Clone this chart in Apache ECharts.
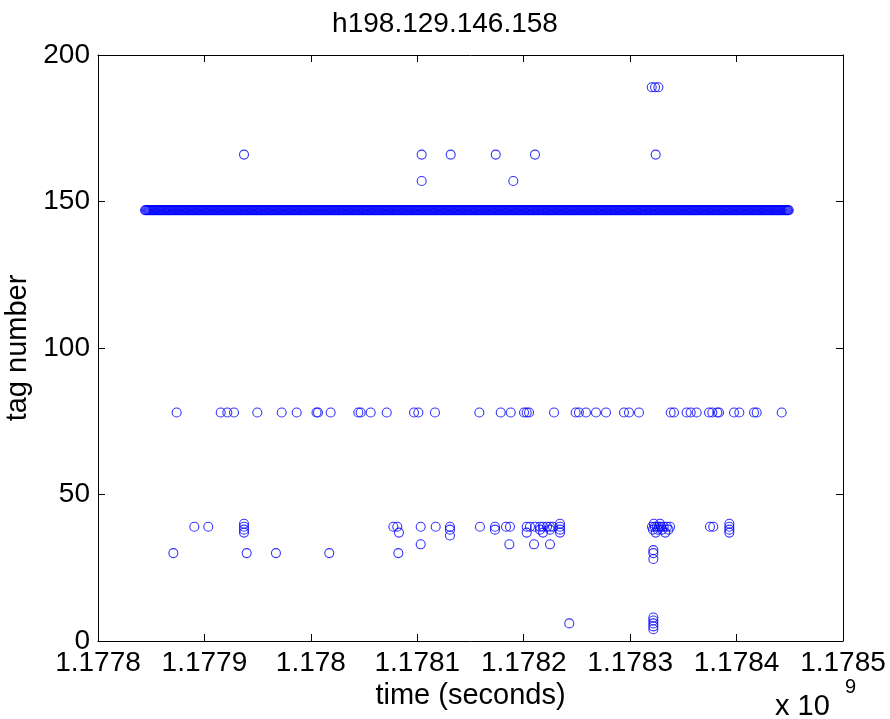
<!DOCTYPE html>
<html>
<head>
<meta charset="utf-8">
<script src="https://cdn.jsdelivr.net/npm/echarts@6/dist/echarts.min.js"></script>
<style>
html,body{margin:0;padding:0;background:#fff;}
#c{width:890px;height:719px;}
</style>
</head>
<body>
<div id="c"></div>
<script>
// ---- data (time in seconds, tag number) ----
var chartTitle = "h198.129.146.158";
var xTicks = [1177800000, 1177900000, 1178000000, 1178100000, 1178200000, 1178300000, 1178400000, 1178500000];
var yTicks = [0, 50, 100, 150, 200];

// tag 147: dense band of observations (first pass)
var times147 = [
1177844200,1177845900,1177847700,1177849300,1177851100,1177852800,1177854400,1177856200,1177857900,1177859600,
1177861400,1177863000,1177864800,1177866500,1177868100,1177869900,1177871600,1177873300,1177875100,1177876700,
1177878500,1177880200,1177881800,1177883600,1177885300,1177887000,1177888800,1177890400,1177892200,1177893900,
1177895500,1177897300,1177899000,1177900700,1177902500,1177904100,1177905900,1177907600,1177909200,1177911000,
1177912700,1177914400,1177916200,1177917800,1177919600,1177921300,1177922900,1177924700,1177926400,1177928100,
1177929900,1177931500,1177933300,1177935000,1177936600,1177938400,1177940100,1177941800,1177943600,1177945200,
1177947000,1177948700,1177950300,1177952100,1177953800,1177955500,1177957300,1177958900,1177960700,1177962400,
1177964000,1177965800,1177967500,1177969200,1177971000,1177972600,1177974400,1177976100,1177977700,1177979500,
1177981200,1177982900,1177984700,1177986300,1177988100,1177989800,1177991400,1177993200,1177994900,1177996600,
1177998400,1178000000,1178001800,1178003500,1178005100,1178006900,1178008600,1178010300,1178012100,1178013700,
1178015500,1178017200,1178018800,1178020600,1178022300,1178024000,1178025800,1178027400,1178029200,1178030900,
1178032500,1178034300,1178036000,1178037700,1178039500,1178041100,1178042900,1178044600,1178046200,1178048000,
1178049700,1178051400,1178053200,1178054800,1178056600,1178058300,1178059900,1178061700,1178063400,1178065100,
1178066900,1178068500,1178070300,1178072000,1178073600,1178075400,1178077100,1178078800,1178080600,1178082200,
1178084000,1178085700,1178087300,1178089100,1178090800,1178092500,1178094300,1178095900,1178097700,1178099400,
1178101000,1178102800,1178104500,1178106200,1178108000,1178109600,1178111400,1178113100,1178114700,1178116500,
1178118200,1178119900,1178121700,1178123300,1178125100,1178126800,1178128400,1178130200,1178131900,1178133600,
1178135400,1178137000,1178138800,1178140500,1178142100,1178143900,1178145600,1178147300,1178149100,1178150700,
1178152500,1178154200,1178155800,1178157600,1178159300,1178161000,1178162800,1178164400,1178166200,1178167900,
1178169500,1178171300,1178173000,1178174700,1178176500,1178178100,1178179900,1178181600,1178183200,1178185000,
1178186700,1178188400,1178190200,1178191800,1178193600,1178195300,1178196900,1178198700,1178200400,1178202100,
1178203900,1178205500,1178207300,1178209000,1178210600,1178212400,1178214100,1178215800,1178217600,1178219200,
1178221000,1178222700,1178224300,1178226100,1178227800,1178229500,1178231300,1178232900,1178234700,1178236400,
1178238000,1178239800,1178241500,1178243200,1178245000,1178246600,1178248400,1178250100,1178251700,1178253500,
1178255200,1178256900,1178258700,1178260300,1178262100,1178263800,1178265400,1178267200,1178268900,1178270600,
1178272400,1178274000,1178275800,1178277500,1178279100,1178280900,1178282600,1178284300,1178286100,1178287700,
1178289500,1178291200,1178292800,1178294600,1178296300,1178298000,1178299800,1178301400,1178303200,1178304900,
1178306500,1178308300,1178310000,1178311700,1178313500,1178315100,1178316900,1178318600,1178320200,1178322000,
1178323700,1178325400,1178327200,1178328800,1178330600,1178332300,1178333900,1178335700,1178337400,1178339100,
1178340900,1178342500,1178344300,1178346000,1178347600,1178349400,1178351100,1178352800,1178354600,1178356200,
1178358000,1178359700,1178361300,1178363100,1178364800,1178366500,1178368300,1178369900,1178371700,1178373400,
1178375000,1178376800,1178378500,1178380200,1178382000,1178383600,1178385400,1178387100,1178388700,1178390500,
1178392200,1178393900,1178395700,1178397300,1178399100,1178400800,1178402400,1178404200,1178405900,1178407600,
1178409400,1178411000,1178412800,1178414500,1178416100,1178417900,1178419600,1178421300,1178423100,1178424700,
1178426500,1178428200,1178429800,1178431600,1178433300,1178435000,1178436800,1178438400,1178440200,1178441900,
1178443500,1178445300,1178447000,1178448300,1178449100
];
// tag 147: further observations in between
var times147b = [
1177845000,1177846800,1177848500,1177850200,1177851900,1177853600,1177855300,1177857000,1177858700,1177860500,
1177862200,1177863900,1177865600,1177867300,1177869000,1177870700,1177872500,1177874200,1177875900,1177877600,
1177879300,1177881000,1177882700,1177884400,1177886100,1177887900,1177889600,1177891300,1177893000,1177894700,
1177896400,1177898100,1177899800,1177901600,1177903300,1177905000,1177906700,1177908400,1177910100,1177911800,
1177913500,1177915300,1177917000,1177918700,1177920400,1177922100,1177923800,1177925500,1177927200,1177929000,
1177930700,1177932400,1177934100,1177935800,1177937500,1177939200,1177940900,1177942700,1177944400,1177946100,
1177947800,1177949500,1177951200,1177952900,1177954600,1177956400,1177958100,1177959800,1177961500,1177963200,
1177964900,1177966600,1177968300,1177970100,1177971800,1177973500,1177975200,1177976900,1177978600,1177980300,
1177982000,1177983800,1177985500,1177987200,1177988900,1177990600,1177992300,1177994000,1177995700,1177997500,
1177999200,1178000900,1178002600,1178004300,1178006000,1178007700,1178009400,1178011200,1178012900,1178014600,
1178016300,1178018000,1178019700,1178021400,1178023100,1178024900,1178026600,1178028300,1178030000,1178031700,
1178033400,1178035100,1178036800,1178038600,1178040300,1178042000,1178043700,1178045400,1178047100,1178048800,
1178050500,1178052300,1178054000,1178055700,1178057400,1178059100,1178060800,1178062500,1178064200,1178066000,
1178067700,1178069400,1178071100,1178072800,1178074500,1178076200,1178077900,1178079700,1178081400,1178083100,
1178084800,1178086500,1178088200,1178089900,1178091600,1178093400,1178095100,1178096800,1178098500,1178100200,
1178101900,1178103600,1178105300,1178107100,1178108800,1178110500,1178112200,1178113900,1178115600,1178117300,
1178119000,1178120800,1178122500,1178124200,1178125900,1178127600,1178129300,1178131000,1178132700,1178134500,
1178136200,1178137900,1178139600,1178141300,1178143000,1178144700,1178146400,1178148200,1178149900,1178151600,
1178153300,1178155000,1178156700,1178158400,1178160100,1178161900,1178163600,1178165300,1178167000,1178168700,
1178170400,1178172100,1178173800,1178175600,1178177300,1178179000,1178180700,1178182400,1178184100,1178185800,
1178187500,1178189300,1178191000,1178192700,1178194400,1178196100,1178197800,1178199500,1178201200,1178203000,
1178204700,1178206400,1178208100,1178209800,1178211500,1178213200,1178214900,1178216700,1178218400,1178220100,
1178221800,1178223500,1178225200,1178226900,1178228600,1178230400,1178232100,1178233800,1178235500,1178237200,
1178238900,1178240600,1178242300,1178244100,1178245800,1178247500,1178249200,1178250900,1178252600,1178254300,
1178256000,1178257800,1178259500,1178261200,1178262900,1178264600,1178266300,1178268000,1178269700,1178271500,
1178273200,1178274900,1178276600,1178278300,1178280000,1178281700,1178283400,1178285200,1178286900,1178288600,
1178290300,1178292000,1178293700,1178295400,1178297100,1178298900,1178300600,1178302300,1178304000,1178305700,
1178307400,1178309100,1178310800,1178312600,1178314300,1178316000,1178317700,1178319400,1178321100,1178322800,
1178324500,1178326300,1178328000,1178329700,1178331400,1178333100,1178334800,1178336500,1178338200,1178340000,
1178341700,1178343400,1178345100,1178346800,1178348500,1178350200,1178351900,1178353700,1178355400,1178357100,
1178358800,1178360500,1178362200,1178363900,1178365600,1178367400,1178369100,1178370800,1178372500,1178374200,
1178375900,1178377600,1178379300,1178381100,1178382800,1178384500,1178386200,1178387900,1178389600,1178391300,
1178393000,1178394800,1178396500,1178398200,1178399900,1178401600,1178403300,1178405000,1178406700,1178408500,
1178410200,1178411900,1178413600,1178415300,1178417000,1178418700,1178420400,1178422200,1178423900,1178425600,
1178427300,1178429000,1178430700,1178432400,1178434100,1178435900,1178437600,1178439300,1178441000,1178442700,
1178444400,1178446100,1178447700
];

// tag 78 row
var times78 = [
1177873900,1177915300,1177921500,1177927800,1177949700,1177972600,1177986700,1178005300,1178006700,1178018600,
1178044600,1178046800,1178056200,1178071300,1178096900,1178101000,1178116600,1178158300,1178178400,1178187800,
1178200300,1178202800,1178205000,1178228500,1178248800,1178251900,1178258500,1178267900,1178277300,1178294200,
1178298900,1178308300,1178338100,1178341200,1178353100,1178356900,1178362500,1178374100,1178377200,1178381900,
1178383500,1178397600,1178402600,1178416400,1178418900,1178442400
];

// remaining points: times and their tags
var otherTimes = [
1177890500,1177903600,1177937200,1177937200,1177937200,1177937200,1178077500,1178081200,1178082800,1178103200,
1178117300,1178130700,1178130700,1178130700,1178158900,1178173000,1178173000,1178183400,1178187100,1178202800,
1178202800,1178205900,1178210600,1178215300,1178215300,1178218100,1178218100,1178221900,1178224700,1178224700,
1178227500,1178234100,1178234100,1178234100,1178234100,
1178320500,1178321500,1178322300,1178323000,1178324000,1178325000,1178326000,1178327000,1178328000,1178329000,
1178330000,1178331500,1178333000,1178334500,1178336000,1178337500,
1178375000,1178378100,1178393200,1178393200,1178393200,1178393200,
1177870800,1177939700,1177967200,1178017300,1178082200,1178321800,1178321800,1178321800,
1178103200,1178186500,1178209700,1178224700,
1178242800,1178321800,1178321800,1178321800,1178321800,1178321800,
1178104100,1178190200,
1177937200,1178104100,1178131400,1178173700,1178210600,1178324000,
1178320300,1178323400,1178326500
];
var otherTags = [
39,39,40,39,38,37,39,39,37,39,
39,39,38,36,39,39,38,39,39,39,
37,39,39,39,38,39,37,39,39,38,
39,40,39,38,37,
39,38,40,39,37,39,38,39,40,39,
38,39,37,39,38,39,
39,39,40,39,38,37,
30,30,30,30,30,31,30,28,
33,33,33,33,
6,8,7,6,5,4,
157,157,
166,166,166,166,166,166,
189,189,189
];

// ---- build ----
var points = [];
times147.forEach(function (t) { points.push([t, 147]); });
times147b.forEach(function (t) { points.push([t, 147]); });
times78.forEach(function (t) { points.push([t, 78]); });
otherTimes.forEach(function (t, i) { points.push([t, otherTags[i]]); });

var FONT = "'Liberation Sans', Arial, Helvetica, sans-serif";
var chart = echarts.init(document.getElementById('c'), null, {renderer: 'canvas'});

function xFmt(v) { return String(parseFloat((v / 1e9).toFixed(4))); }

var tickStyle = {show: true, inside: true, length: 7, lineStyle: {color: '#000', width: 1}};
var lineStyle = {show: true, onZero: false, lineStyle: {color: '#000', width: 1}};

chart.setOption({
  animation: false,
  backgroundColor: '#fff',
  title: {
    text: chartTitle, left: 'center', top: 5,
    textStyle: {fontFamily: FONT, fontSize: 28, fontWeight: 'normal', color: '#000'}
  },
  grid: {left: 98, right: 47, top: 55, bottom: 78, containLabel: false, outerBoundsMode: 'none'},
  xAxis: [{
    type: 'value', min: xTicks[0], max: xTicks[xTicks.length - 1], interval: 100000,
    position: 'bottom',
    axisLine: lineStyle, axisTick: tickStyle, splitLine: {show: false},
    axisLabel: {formatter: xFmt, fontFamily: FONT, fontSize: 28, color: '#000', margin: 8, showMinLabel: true, showMaxLabel: true},
    name: 'time (seconds)', nameLocation: 'middle', nameGap: 35,
    nameTextStyle: {fontFamily: FONT, fontSize: 29, color: '#000'}
  }, {
    type: 'value', min: xTicks[0], max: xTicks[xTicks.length - 1], interval: 100000,
    position: 'top',
    axisLine: lineStyle, axisTick: tickStyle, splitLine: {show: false},
    axisLabel: {show: false}
  }],
  yAxis: [{
    type: 'value', min: yTicks[0], max: yTicks[yTicks.length - 1], interval: 50,
    position: 'left',
    axisLine: lineStyle, axisTick: tickStyle, splitLine: {show: false},
    axisLabel: {fontFamily: FONT, fontSize: 28, color: '#000', margin: 8},
    name: 'tag number', nameLocation: 'middle', nameGap: 54,
    nameTextStyle: {fontFamily: FONT, fontSize: 29, color: '#000'}
  }, {
    type: 'value', min: yTicks[0], max: yTicks[yTicks.length - 1], interval: 50,
    position: 'right',
    axisLine: lineStyle, axisTick: tickStyle, splitLine: {show: false},
    axisLabel: {show: false}
  }],
  graphic: [{
    type: 'text', left: 775, top: 692,
    style: {text: 'x 10', font: '29px ' + FONT, fill: '#000'}
  }, {
    type: 'text', left: 845, top: 677,
    style: {text: '9', font: '20px ' + FONT, fill: '#000'}
  }],
  series: [{
    type: 'scatter',
    xAxisIndex: 0, yAxisIndex: 0,
    symbol: 'circle', symbolSize: 9,
    itemStyle: {color: 'rgba(0,0,0,0)', borderColor: '#0000ff', borderWidth: 1.1},
    emphasis: {disabled: true},
    data: points
  }]
});
</script>
</body>
</html>
